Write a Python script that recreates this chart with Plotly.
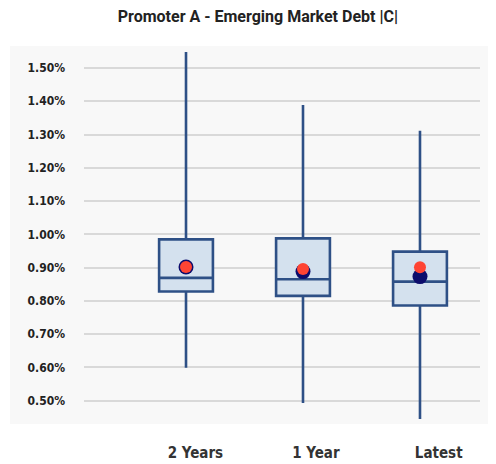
import plotly.graph_objects as go

# periods shown on the x axis
categories = ["2 Years", "1 Year", "Latest"]

# box statistics (as fractions, shown as %)
lower_whisker = [0.00599, 0.00493, 0.00445]
q1_values = [0.00828, 0.00815, 0.00786]
median_values = [0.00869, 0.00865, 0.00858]
q3_values = [0.00985, 0.00988, 0.00948]
upper_whisker = [0.01548, 0.01389, 0.01311]

# dots drawn on each box
navy_values = [0.00902, 0.00888, 0.00873]
red_values = [0.00902, 0.00896, 0.00901]

positions = list(range(len(categories)))
label_positions = [0.08, 1.11, 2.16]

TITLE_FONT = "Roboto, sans-serif"
TICK_FONT = "DejaVu Sans Condensed, Roboto, sans-serif"
BOX_LINE = "#2e5086"
BOX_FILL = "#d4e1ee"
BG_GRAY = "#f8f8f8"

fig = go.Figure()

fig.add_trace(go.Box(
    x=positions,
    q1=q1_values, median=median_values, q3=q3_values,
    lowerfence=lower_whisker, upperfence=upper_whisker,
    width=0.46, whiskerwidth=0,
    fillcolor=BOX_FILL,
    line=dict(color=BOX_LINE, width=2.6),
    hoverinfo="skip",
))

fig.add_trace(go.Scatter(
    x=positions, y=navy_values, mode="markers",
    marker=dict(color="#0c0c6c", size=15, line=dict(width=0)),
))
fig.add_trace(go.Scatter(
    x=positions, y=red_values, mode="markers",
    marker=dict(color="#ff4433", size=12, line=dict(width=0)),
))

# grey panel behind plot and y labels
fig.add_shape(type="rect", xref="paper", yref="paper",
              x0=-0.187, x1=1.041, y0=0, y1=1,
              fillcolor=BG_GRAY, line=dict(width=0), layer="below")

# page body adds an 8px offset, so the figure is 8px smaller than the window
fig.update_layout(
    width=488, height=456,
    margin=dict(l=76, r=16, t=38, b=40),
    paper_bgcolor="white", plot_bgcolor=BG_GRAY,
    showlegend=False,
    title=dict(text="<b>Promoter A - Emerging Market Debt |C|</b>",
               x=0.512, xref="container", xanchor="center",
               y=0.981, yref="container", yanchor="middle",
               font=dict(family=TITLE_FONT, size=16, color="#222222")),
    font=dict(family=TICK_FONT, color="#333333"),
)

fig.update_xaxes(
    range=[-0.872, 2.513], automargin=False,
    tickvals=label_positions, ticktext=[f"<b>{c}</b>" for c in categories],
    tickfont=dict(family=TICK_FONT, size=15, color="#333333"),
    showgrid=False, zeroline=False, showline=False, ticks="",
    ticklabelstandoff=18,
)
fig.update_yaxes(
    range=[0.00430, 0.01566], automargin=False,
    dtick=0.001, tick0=0.005, tickformat=".2%",
    tickfont=dict(family=TICK_FONT, size=12, color="#222222", weight="bold"),
    showgrid=True, gridcolor="#d9d9d9", gridwidth=1.5,
    zeroline=False, showline=False, ticks="",
    ticklabelstandoff=18,
)

fig.write_html("out.html")
